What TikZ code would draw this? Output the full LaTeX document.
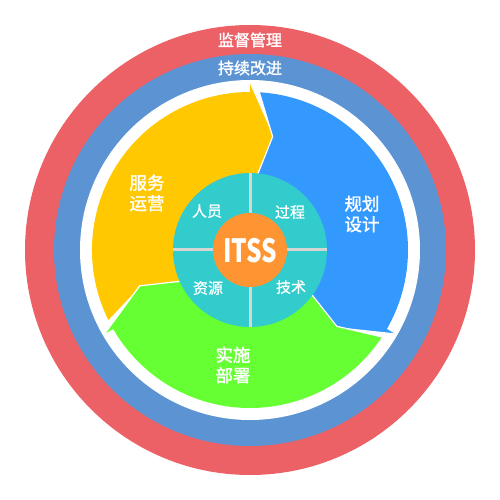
\documentclass[tikz,border=0pt]{standalone}
\usepackage{fontspec}
\newfontfamily\cjk{Noto Sans CJK SC}
\newfontfamily\cjkm[FakeBold=1.6]{Noto Sans CJK SC}
\newfontfamily\cjkl[FakeBold=0.8]{Noto Sans CJK SC}
\definecolor{ringred}{RGB}{236,97,102}
\definecolor{ringblue}{RGB}{91,147,211}
\definecolor{segyellow}{RGB}{255,200,0}
\definecolor{segblue}{RGB}{51,153,255}
\definecolor{seggreen}{RGB}{102,255,51}
\definecolor{hubteal}{RGB}{51,204,204}
\definecolor{huborange}{RGB}{255,148,51}
\definecolor{divgray}{RGB}{214,214,214}
\tikzset{
  seglabel/.style={text=white,font=\cjkm\fontsize{17.5}{20.5}\selectfont,align=center,inner sep=0pt},
  ringlabel/.style={text=white,font=\cjkm\fontsize{16}{18}\selectfont,inner sep=0pt},
  hublabel/.style={text=white,font=\cjkl\fontsize{15}{17}\selectfont,inner sep=0pt},
  segshape/.style={draw=white,line width=1.2pt,line join=miter}
}
\newcommand{\segpath}[2]{%
  \fill[#2] (0,0) -- (#1+114:77) -- (#1+108.7:115.6) -- (#1+116.6:158)
    arc[start angle=#1+116.6, end angle=#1, radius=158] -- (#1:168) -- (#1-12:116) -- (#1-6:77) -- cycle;
  \draw[segshape] (#1+114:77) -- (#1+108.7:115.6) -- (#1+116.6:158);
  \draw[segshape] (#1:168) -- (#1-12:116) -- (#1-6:77);
}
\begin{document}
\begin{tikzpicture}[x=1pt,y=1pt]
\useasboundingbox (-250,-250) rectangle (250,250);
\fill[white] (-250,-250) rectangle (250,250);
\fill[ringred] (0,0) circle (225);
\fill[ringblue] (0,0) circle (196);
\fill[white] (0,0) circle (170);
\segpath{90}{segyellow}
\segpath{-30}{segblue}
\segpath{210}{seggreen}
\fill[hubteal] (0,0) circle (77);
\draw[divgray,line width=3pt] (0,77) -- (0,-77);
\draw[divgray,line width=3pt] (-77,0) -- (77,0);
\fill[huborange] (0,0) circle (37);
\node[text=white,font=\cjk\bfseries\fontsize{32}{34}\selectfont,inner sep=0pt,xscale=0.76] (itss) at (0,-1) {ITSS};
\node[ringlabel] (jianli) at (0,210) {监督管理};
\node[ringlabel] (gaijin) at (0,182) {持续改进};
\node[seglabel] (yunying) at (-103,57) {服务\\运营};
\node[seglabel] (sheji) at (112,36) {规划\\设计};
\node[seglabel] (bushu) at (-17,-115) {实施\\部署};
\node[hublabel] (renyuan) at (-43,39) {人员};
\node[hublabel] (guocheng) at (40,38) {过程};
\node[hublabel] (ziyuan) at (-42,-38) {资源};
\node[hublabel] (jishu) at (41,-37) {技术};
\end{tikzpicture}
\end{document}
